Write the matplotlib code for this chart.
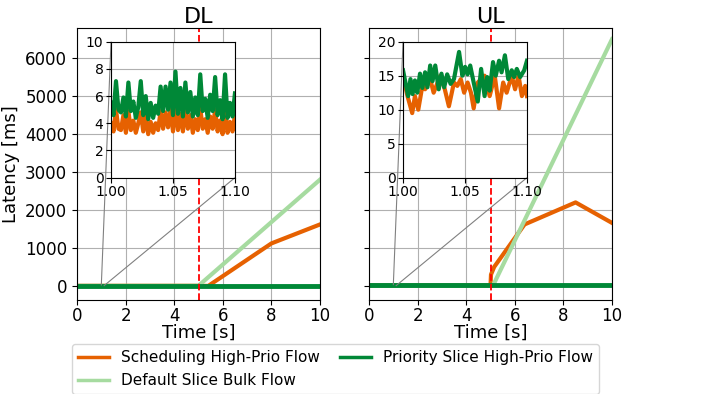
import numpy as np
import matplotlib
matplotlib.use('Agg')
from matplotlib import pyplot as plt
from matplotlib.lines import Line2D
from mpl_toolkits.axes_grid1.inset_locator import mark_inset

# 颜色
c_sched = '#e66101'
c_bulk = '#a6dba0'
c_prio = '#008837'

labels = ['Scheduling High-Prio Flow', 'Default Slice Bulk Flow', 'Priority Slice High-Prio Flow']

# ---- DL 主图数据 (s, ms) ----
dl_sched_t = [0, 1, 5, 5.4, 8, 10]
dl_sched_y = [4, 4, 4, 0, 1120, 1620]
dl_bulk_t = [0, 1, 5, 10]
dl_bulk_y = [5, 5, 5, 2800]
dl_prio_t = [0, 1, 5, 10]
dl_prio_y = [5, 5, 5, 5]

# ---- UL 主图数据 ----
ul_sched_t = [0, 1, 5, 5.02, 5.15, 6.4, 8.5, 10]
ul_sched_y = [13, 13, 13, 300, 500, 1620, 2200, 1660]
ul_bulk_t = [0, 1, 5.1, 10]
ul_bulk_y = [5, 5, 5, 6500]
ul_prio_t = [0, 1, 5, 10]
ul_prio_y = [15, 15, 15, 15]

# ---- DL 放大数据 1.00 - 1.10 s ----
dl_zoom_t = [1.000, 1.002, 1.004, 1.006, 1.008, 1.010, 1.012, 1.014, 1.016, 1.018,
             1.020, 1.022, 1.024, 1.026, 1.028, 1.030, 1.032, 1.034, 1.036, 1.038,
             1.040, 1.042, 1.044, 1.046, 1.048, 1.050, 1.052, 1.054, 1.056, 1.058,
             1.060, 1.062, 1.064, 1.066, 1.068, 1.070, 1.072, 1.074, 1.076, 1.078,
             1.080, 1.082, 1.084, 1.086, 1.088, 1.090, 1.092, 1.094, 1.096, 1.098,
             1.100]
dl_zoom_prio = [5.5, 4.6, 7.1, 5.0, 4.8, 5.9, 4.5, 7.0, 4.9, 5.6,
                4.4, 5.2, 7.1, 4.6, 6.0, 4.3, 5.5, 4.4, 5.3, 4.7,
                6.7, 4.9, 6.7, 5.0, 7.0, 4.6, 7.8, 4.7, 6.6, 4.5,
                7.0, 4.8, 6.3, 4.5, 5.9, 4.6, 7.6, 4.9, 5.8, 4.4,
                6.1, 4.9, 7.4, 4.6, 5.7, 4.3, 7.6, 4.4, 5.5, 4.5,
                6.2]
dl_zoom_sched = [4.0, 3.4, 5.0, 3.6, 3.5, 4.6, 3.3, 4.9, 3.5, 4.2,
                 3.3, 4.0, 4.8, 3.4, 4.5, 3.2, 4.1, 3.3, 4.0, 3.5,
                 4.9, 3.6, 4.8, 3.7, 5.0, 3.4, 5.3, 3.5, 4.7, 3.4,
                 5.0, 3.6, 4.6, 3.3, 4.3, 3.5, 5.1, 3.6, 4.3, 3.3,
                 4.5, 3.6, 5.0, 3.4, 4.2, 3.2, 5.1, 3.3, 4.1, 3.4,
                 4.6]

# ---- UL 放大数据 ----
ul_zoom_prio_t = [1.0000, 1.0041, 1.0060, 1.0077, 1.0096, 1.0115, 1.0137, 1.0156, 1.0178, 1.0197,
                  1.0219, 1.0238, 1.0260, 1.0288, 1.0310, 1.0332, 1.0356, 1.0384, 1.0411, 1.0452,
                  1.0479, 1.0501, 1.0521, 1.0542, 1.0570, 1.0603, 1.0630, 1.0658, 1.0679, 1.0699,
                  1.0726, 1.0748, 1.0775, 1.0795, 1.0822, 1.0849, 1.0877, 1.0896, 1.0918, 1.0945,
                  1.0978, 1.1000]
ul_zoom_prio = [15.8, 12.0, 14.5, 12.3, 14.3, 12.5, 15.3, 13.2, 15.5, 13.3,
                16.5, 14.2, 16.5, 13.0, 15.3, 13.3, 15.2, 13.8, 14.5, 18.5,
                15.0, 16.3, 15.2, 16.5, 14.0, 11.2, 16.0, 12.0, 14.8, 12.8,
                17.0, 15.0, 17.2, 15.5, 18.0, 14.5, 15.8, 14.8, 16.0, 14.8,
                15.8, 17.2]
ul_zoom_sched_t = [1.0000, 1.0036, 1.0074, 1.0096, 1.0123, 1.0156, 1.0178, 1.0219, 1.0247, 1.0301,
                   1.0337, 1.0370, 1.0411, 1.0438, 1.0466, 1.0493, 1.0521, 1.0548, 1.0570, 1.0603,
                   1.0658, 1.0699, 1.0740, 1.0775, 1.0808, 1.0836, 1.0877, 1.0904, 1.0932, 1.0959,
                   1.0986, 1.1000]
ul_zoom_sched = [15.0, 12.0, 9.5, 12.0, 10.0, 13.5, 13.0, 14.5, 12.5, 15.0,
                 13.0, 10.5, 14.0, 13.5, 14.5, 12.5, 14.0, 12.5, 10.2, 14.0,
                 15.0, 12.0, 15.0, 10.2, 14.0, 12.5, 15.0, 13.0, 15.0, 12.0,
                 13.5, 12.0]

plt.rc('font', size=12)

fig = plt.figure(figsize=(7.11, 3.94), dpi=100)
ax_dl = fig.add_axes([0.1083, 0.2386, 0.3418, 0.690])
ax_ul = fig.add_axes([0.519, 0.2386, 0.3418, 0.690], sharey=ax_dl)


def draw_panel(ax, title, sched, bulk, prio, zoom_sched, zoom_prio, ylim_in, yticks_in):
    ax.plot(sched[0], sched[1], color=c_sched, lw=3)
    ax.plot(bulk[0], bulk[1], color=c_bulk, lw=3)
    ax.plot(prio[0], prio[1], color=c_prio, lw=3.5)
    ax.axvline(5, color='red', ls='--', lw=1.3)
    ax.set_xlim(0, 10)
    ax.set_xticks([0, 2, 4, 6, 8, 10])
    ax.tick_params(axis='x', pad=1.5)
    ax.set_xlabel('Time [s]', fontsize=13, labelpad=-1)
    ax.set_title(title, fontsize=16, pad=4)
    ax.grid(True)

    # 放大图
    axins = ax.inset_axes([0.14, 0.45, 0.51, 0.5])
    axins.plot(zoom_sched[0], zoom_sched[1], color=c_sched, lw=3)
    axins.plot(zoom_prio[0], zoom_prio[1], color=c_prio, lw=3)
    axins.set_xlim(1.0, 1.1)
    axins.set_ylim(*ylim_in)
    axins.set_xticks([1.0, 1.05, 1.1])
    axins.set_xticklabels(['1.00', '1.05', '1.10'])
    axins.set_yticks(yticks_in)
    axins.tick_params(labelsize=10, pad=2)
    axins.grid(True)
    mark_inset(ax, axins, loc1=2, loc2=4, fc='none', ec='0.5', lw=0.8)
    return axins


draw_panel(ax_dl, 'DL', (dl_sched_t, dl_sched_y), (dl_bulk_t, dl_bulk_y), (dl_prio_t, dl_prio_y),
           (dl_zoom_t, dl_zoom_sched), (dl_zoom_t, dl_zoom_prio), (0, 10), [0, 2, 4, 6, 8, 10])
draw_panel(ax_ul, 'UL', (ul_sched_t, ul_sched_y), (ul_bulk_t, ul_bulk_y), (ul_prio_t, ul_prio_y),
           (ul_zoom_sched_t, ul_zoom_sched), (ul_zoom_prio_t, ul_zoom_prio), (0, 20), [0, 5, 10, 15, 20])

ax_dl.set_ylabel('Latency [ms]', fontsize=13)
ax_dl.set_yticks([0, 1000, 2000, 3000, 4000, 5000, 6000])
ax_dl.set_ylim(-370, 6790)
ax_ul.tick_params(labelleft=False)

# 图例
handles = [Line2D([], [], color=c, lw=2.5) for c in (c_sched, c_bulk, c_prio)]
fig.legend(handles, labels, loc='upper center', bbox_to_anchor=(0.472, 0.146), ncol=2,
           fontsize=11, columnspacing=1.35, handlelength=2.0)

fig.savefig('out.png', dpi=100)
